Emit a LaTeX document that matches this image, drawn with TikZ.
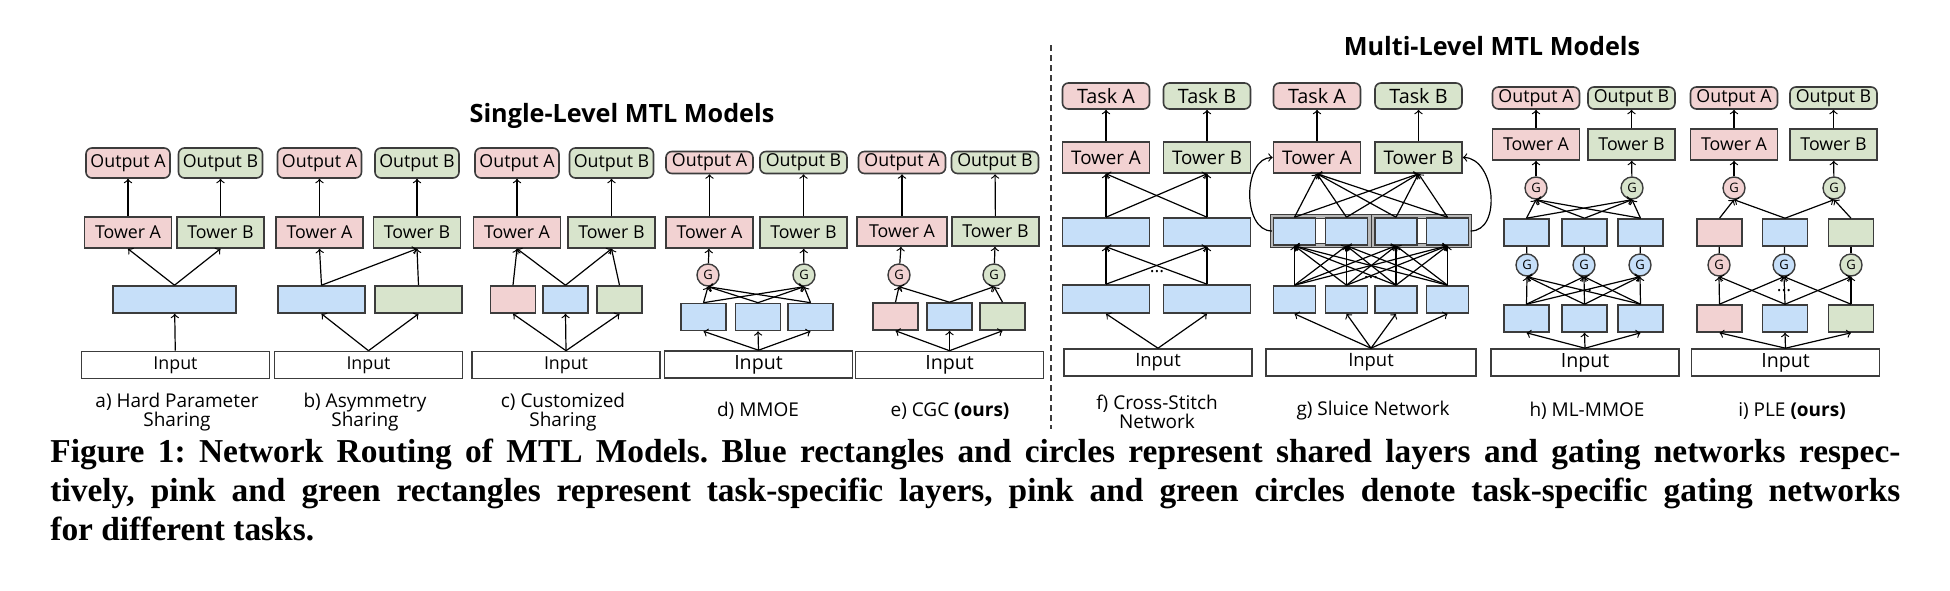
\documentclass[tikz,border=0pt]{standalone}
\usepackage{fontspec}
\setsansfont{Open Sans}
\newfontfamily\capfont{Liberation Serif}
\usetikzlibrary{positioning}
\definecolor{taskpink}{RGB}{242,210,210}
\definecolor{taskgreen}{RGB}{216,228,204}
\definecolor{sharedblue}{RGB}{198,223,249}
\definecolor{edgegray}{RGB}{60,60,60}
\definecolor{groupgray}{RGB}{185,185,185}

\begin{document}
\begin{tikzpicture}[x=0.5pt, y=-0.5pt,
    every node/.style={font=\sffamily\fontsize{8.9}{10}\selectfont},
    sz/.style 2 args={minimum width=#1*0.5pt, minimum height=#2*0.5pt},
    boxbase/.style={draw=edgegray, line width=0.8pt, inner sep=0pt},
    pinkfill/.style={fill=taskpink},
    greenfill/.style={fill=taskgreen},
    bluefill/.style={fill=sharedblue},
    tower/.style={boxbase, sz={87}{31}},
    outbig/.style={boxbase, rounded corners=3pt, sz={84}{30}},
    outsmall/.style={boxbase, rounded corners=3pt, sz={87}{22}},
    taskbox/.style={boxbase, rounded corners=3pt, sz={87}{26}},
    expert/.style={boxbase, sz={45}{27}},
    inbox/.style={boxbase, fill=white, sz={188}{27}},
    gate/.style={circle, draw=edgegray, line width=0.7pt, inner sep=0pt, minimum size=11pt, font=\sffamily\fontsize{6.5}{7}\selectfont},
    sluicegroup/.style={draw=edgegray, line width=0.55pt, double=groupgray, double distance=1.3pt, fill=white, sz={97}{29}},
    arr/.style={->, line width=0.6pt},
    plainlink/.style={line width=0.6pt},
    bigtext/.style={font=\sffamily\fontsize{9.8}{10}\selectfont},
    panellabel/.style={align=center, font=\sffamily\fontsize{9.5}{9.5}\selectfont},
    headline/.style={font=\sffamily\bfseries\fontsize{12.6}{13}\selectfont},
    ellip/.style={font=\sffamily\fontsize{9}{9}\selectfont, inner sep=0pt}
]
    \useasboundingbox (0,0) rectangle (1950,590);

    % === Titles and separator ===
    \node[headline] (slTitle) at (622,116) {Single-Level MTL Models};
    \node[headline] (mlTitle) at (1492,46) {Multi-Level MTL Models};
    \coordinate (sepTop) at (1051,45);
    \coordinate (sepBot) at (1051,429);
    \draw[edgegray, line width=0.6pt, dash pattern=on 3pt off 2pt] (sepTop) -- (sepBot);

    % === a) Hard Parameter Sharing ===
    \node[outbig, pinkfill] (aOutA) at (128,163) {Output A};
    \node[outbig, greenfill] (aOutB) at (220.5,163) {Output B};
    \node[tower, pinkfill] (aTowA) at (128,232.5) {Tower A};
    \node[tower, greenfill] (aTowB) at (220.5,232.5) {Tower B};
    \node[boxbase, bluefill, sz={123}{27}] (aShr) at (174.5,299.5) {};
    \node[inbox] (aIn) at (175.5,365) {Input};
    \node[panellabel] (aLab) at (177,412.5) {a) Hard Parameter\\Sharing};

    \draw[arr] (aIn) -- (aShr);
    \draw[arr] (aShr.north) -- (aTowA.south);
    \draw[arr] (aShr.north) -- (aTowB.south);
    \draw[arr] (aTowA) -- (aOutA);
    \draw[arr] (aTowB) -- (aOutB);

    % === b) Asymmetry Sharing ===
    \node[outbig, pinkfill] (bOutA) at (319.5,163) {Output A};
    \node[outbig, greenfill] (bOutB) at (417,163) {Output B};
    \node[tower, pinkfill] (bTowA) at (319.5,232.5) {Tower A};
    \node[tower, greenfill] (bTowB) at (417,232.5) {Tower B};
    \node[boxbase, bluefill, sz={87}{27}] (bShr) at (321.5,299.5) {};
    \node[boxbase, greenfill, sz={87}{27}] (bOwn) at (418.5,299.5) {};
    \node[inbox] (bIn) at (368.5,365) {Input};
    \node[panellabel] (bLab) at (365,412.5) {b) Asymmetry\\Sharing};

    \draw[arr] (bIn.north) -- (bShr.south);
    \draw[arr] (bIn.north) -- (bOwn.south);
    \draw[arr] (bShr.north) -- (bTowA.south);
    \draw[arr] (bShr.north) -- (bTowB.south);
    \draw[arr] (bOwn.north) -- (bTowB.south);
    \draw[arr] (bTowA) -- (bOutA);
    \draw[arr] (bTowB) -- (bOutB);

    % === c) Customized Sharing ===
    \node[outbig, pinkfill] (cOutA) at (517,163) {Output A};
    \node[outbig, greenfill] (cOutB) at (611.5,163) {Output B};
    \node[tower, pinkfill] (cTowA) at (517,232.5) {Tower A};
    \node[tower, greenfill] (cTowB) at (611.5,232.5) {Tower B};
    \node[expert, pinkfill] (cExA) at (513,299.5) {};
    \node[expert, bluefill] (cExS) at (565.5,299.5) {};
    \node[expert, greenfill] (cExB) at (619.5,299.5) {};
    \node[inbox] (cIn) at (566,365) {Input};
    \node[panellabel] (cLab) at (563,412.5) {c) Customized\\Sharing};

    \draw[arr] (cIn.north) -- (cExA.south);
    \draw[arr] (cIn.north) -- (cExS.south);
    \draw[arr] (cIn.north) -- (cExB.south);
    \draw[arr] (cExA.north) -- (cTowA.south);
    \draw[arr] (cExS.north) -- (cTowA.south);
    \draw[arr] (cExS.north) -- (cTowB.south);
    \draw[arr] (cExB.north) -- (cTowB.south);
    \draw[arr] (cTowA) -- (cOutA);
    \draw[arr] (cTowB) -- (cOutB);

    % === d) MMOE ===
    \node[outsmall, pinkfill] (dOutA) at (709.5,162.5) {Output A};
    \node[outsmall, greenfill] (dOutB) at (803.5,162.5) {Output B};
    \node[tower, pinkfill] (dTowA) at (709.5,232.5) {Tower A};
    \node[tower, greenfill] (dTowB) at (803.5,232.5) {Tower B};
    \node[gate, pinkfill] (dGA) at (708,275) {G};
    \node[gate, greenfill] (dGB) at (804,275) {G};
    \node[expert, bluefill] (dEx1) at (703.5,317) {};
    \node[expert, bluefill] (dEx2) at (758,317) {};
    \node[expert, bluefill] (dEx3) at (810.5,317) {};
    \node[inbox, bigtext] (dIn) at (758.5,364.5) {Input};
    \node[panellabel] (dLab) at (758,411) {d) MMOE};

    \draw[arr] (dIn.north) -- (dEx1.south);
    \draw[arr] (dIn.north) -- (dEx2.south);
    \draw[arr] (dIn.north) -- (dEx3.south);
    \foreach \i in {1,2,3} {
        \draw[arr] (dEx\i.north) -- (dGA.south);
        \draw[arr] (dEx\i.north) -- (dGB.south);
    }
    \draw[arr] (dGA) -- (dTowA);
    \draw[arr] (dGB) -- (dTowB);
    \draw[arr] (dTowA) -- (dOutA);
    \draw[arr] (dTowB) -- (dOutB);

    % === e) CGC ===
    \node[outsmall, pinkfill] (eOutA) at (902,162.5) {Output A};
    \node[outsmall, greenfill] (eOutB) at (995,162.5) {Output B};
    \node[tower, pinkfill, sz={90}{29}] (eTowA) at (902,231.5) {Tower A};
    \node[tower, greenfill, sz={87}{29}] (eTowB) at (995.5,231.5) {Tower B};
    \node[gate, pinkfill] (eGA) at (899,275) {G};
    \node[gate, greenfill] (eGB) at (994,275) {G};
    \node[expert, pinkfill] (eExA) at (895.5,316.5) {};
    \node[expert, bluefill] (eExS) at (949.5,316.5) {};
    \node[expert, greenfill] (eExB) at (1002.5,316.5) {};
    \node[inbox, bigtext] (eIn) at (949.5,365) {Input};
    \node[panellabel] (eLab) at (950,411) {e) CGC \textbf{(ours)}};

    \draw[arr] (eIn.north) -- (eExA.south);
    \draw[arr] (eIn.north) -- (eExS.south);
    \draw[arr] (eIn.north) -- (eExB.south);
    \draw[arr] (eExA.north) -- (eGA.south);
    \draw[arr] (eExS.north) -- (eGA.south);
    \draw[arr] (eExS.north) -- (eGB.south);
    \draw[arr] (eExB.north) -- (eGB.south);
    \draw[arr] (eGA) -- (eTowA);
    \draw[arr] (eGB) -- (eTowB);
    \draw[arr] (eTowA) -- (eOutA);
    \draw[arr] (eTowB) -- (eOutB);

    % === f) Cross-Stitch Network ===
    \node[taskbox, pinkfill, font=\sffamily\fontsize{9.9}{10}\selectfont] (fTaskA) at (1106,96) {Task A};
    \node[taskbox, greenfill, font=\sffamily\fontsize{9.9}{10}\selectfont] (fTaskB) at (1207,96) {Task B};
    \node[tower, pinkfill, font=\sffamily\fontsize{9.4}{10}\selectfont] (fTowA) at (1106,157.5) {Tower A};
    \node[tower, greenfill, font=\sffamily\fontsize{9.4}{10}\selectfont] (fTowB) at (1207,157.5) {Tower B};
    \node[boxbase, bluefill, sz={87}{28}] (fUp1) at (1106,232) {};
    \node[boxbase, bluefill, sz={87}{28}] (fUp2) at (1207,232) {};
    \node[boxbase, bluefill, sz={87}{28}] (fLo1) at (1106,299) {};
    \node[boxbase, bluefill, sz={87}{28}] (fLo2) at (1207,299) {};
    \node[ellip] (fDots) at (1157,272) {...};
    \node[inbox, font=\sffamily\fontsize{9.2}{10}\selectfont] (fIn) at (1158,362.5) {Input};
    \node[panellabel] (fLab) at (1157,411.5) {f) Cross-Stitch\\Network};

    \draw[arr] (fIn.north) -- (fLo1.south);
    \draw[arr] (fIn.north) -- (fLo2.south);
    \draw[arr] (fLo1.north) -- (fUp1.south);
    \draw[arr] (fLo1.north) -- (fUp2.south);
    \draw[arr] (fLo2.north) -- (fUp1.south);
    \draw[arr] (fLo2.north) -- (fUp2.south);
    \draw[arr] (fUp1.north) -- (fTowA.south);
    \draw[arr] (fUp1.north) -- (fTowB.south);
    \draw[arr] (fUp2.north) -- (fTowA.south);
    \draw[arr] (fUp2.north) -- (fTowB.south);
    \draw[arr] (fTowA) -- (fTaskA);
    \draw[arr] (fTowB) -- (fTaskB);

    % === g) Sluice Network ===
    \node[taskbox, pinkfill, font=\sffamily\fontsize{9.9}{10}\selectfont] (gTaskA) at (1317,96) {Task A};
    \node[taskbox, greenfill, font=\sffamily\fontsize{9.9}{10}\selectfont] (gTaskB) at (1418.5,96) {Task B};
    \node[tower, pinkfill, font=\sffamily\fontsize{9.4}{10}\selectfont] (gTowA) at (1317,157.5) {Tower A};
    \node[tower, greenfill, font=\sffamily\fontsize{9.4}{10}\selectfont] (gTowB) at (1418.5,157.5) {Tower B};
    \node[sluicegroup] (gGrp1) at (1321,231) {};
    \node[sluicegroup] (gGrp2) at (1421.5,231) {};
    \node[boxbase, bluefill, sz={42}{27}] (gUp1) at (1294.5,231.5) {};
    \node[boxbase, bluefill, sz={42}{27}] (gUp2) at (1346.5,231.5) {};
    \node[boxbase, bluefill, sz={42}{27}] (gUp3) at (1396,231.5) {};
    \node[boxbase, bluefill, sz={42}{27}] (gUp4) at (1447.5,231.5) {};
    \node[boxbase, bluefill, sz={42}{27}] (gLo1) at (1294.5,299.5) {};
    \node[boxbase, bluefill, sz={42}{27}] (gLo2) at (1346.5,299.5) {};
    \node[boxbase, bluefill, sz={42}{27}] (gLo3) at (1396,299.5) {};
    \node[boxbase, bluefill, sz={42}{27}] (gLo4) at (1447.5,299.5) {};
    \node[ellip] (gDots) at (1371,278) {...};
    \node[inbox, sz={210}{27}, font=\sffamily\fontsize{9.2}{10}\selectfont] (gIn) at (1371,362.5) {Input};
    \node[panellabel] (gLab) at (1373,411) {g) Sluice Network};

    \foreach \i in {1,...,4} {
        \draw[arr] (gIn.north) -- (gLo\i.south);
        \foreach \j in {1,...,4}
            \draw[arr] (gLo\i.north) -- (gUp\j.south);
        \draw[arr] (gUp\i.north) -- (gTowA.south);
        \draw[arr] (gUp\i.north) -- (gTowB.south);
    }
    \draw[arr] (gGrp1.west) .. controls +(-30,0) and +(-30,0) .. (gTowA.west);
    \draw[arr] (gGrp2.east) .. controls +(32,0) and +(32,0) .. (gTowB.east);
    \draw[arr] (gTowA) -- (gTaskA);
    \draw[arr] (gTowB) -- (gTaskB);

    % === h) ML-MMOE ===
    \node[outsmall, pinkfill] (hOutA) at (1536,98) {Output A};
    \node[outsmall, greenfill] (hOutB) at (1631.5,98) {Output B};
    \node[tower, pinkfill] (hTowA) at (1536,144.5) {Tower A};
    \node[tower, greenfill] (hTowB) at (1631.5,144.5) {Tower B};
    \node[gate, pinkfill] (hGA) at (1536,188) {G};
    \node[gate, greenfill] (hGB) at (1632,188) {G};
    \node[expert, bluefill] (hUp1) at (1526.5,232.5) {};
    \node[expert, bluefill] (hUp2) at (1584.5,232.5) {};
    \node[expert, bluefill] (hUp3) at (1640.5,232.5) {};
    \node[gate, bluefill] (hG1) at (1527,265) {G};
    \node[gate, bluefill] (hG2) at (1584,265) {G};
    \node[gate, bluefill] (hG3) at (1640,265) {G};
    \node[expert, bluefill] (hLo1) at (1526.5,318.5) {};
    \node[expert, bluefill] (hLo2) at (1584.5,318.5) {};
    \node[expert, bluefill] (hLo3) at (1640.5,318.5) {};
    \node[ellip] (hDots) at (1585,291) {...};
    \node[inbox, bigtext] (hIn) at (1585,362.5) {Input};
    \node[panellabel] (hLab) at (1587,411) {h) ML-MMOE};

    \foreach \i in {1,2,3} {
        \draw[arr] (hIn.north) -- (hLo\i.south);
        \foreach \j in {1,2,3}
            \draw[arr] (hLo\i.north) -- (hG\j.south);
        \draw[plainlink] (hG\i) -- (hUp\i);
        \draw[arr] (hUp\i.north) -- (hGA.south);
        \draw[arr] (hUp\i.north) -- (hGB.south);
    }
    \draw[arr] (hGA) -- (hTowA);
    \draw[arr] (hGB) -- (hTowB);
    \draw[arr] (hTowA) -- (hOutA);
    \draw[arr] (hTowB) -- (hOutB);

    % === i) PLE ===
    \node[outsmall, pinkfill] (iOutA) at (1734,98) {Output A};
    \node[outsmall, greenfill] (iOutB) at (1833.5,98) {Output B};
    \node[tower, pinkfill] (iTowA) at (1734,144.5) {Tower A};
    \node[tower, greenfill] (iTowB) at (1833.5,144.5) {Tower B};
    \node[gate, pinkfill] (iGA) at (1734,188) {G};
    \node[gate, greenfill] (iGB) at (1834,188) {G};
    \node[expert, pinkfill] (iUp1) at (1719.5,232.5) {};
    \node[expert, bluefill] (iUp2) at (1785,232.5) {};
    \node[expert, greenfill] (iUp3) at (1851,232.5) {};
    \node[gate, pinkfill] (iG1) at (1719,265) {G};
    \node[gate, bluefill] (iG2) at (1784,265) {G};
    \node[gate, greenfill] (iG3) at (1851,265) {G};
    \node[expert, pinkfill] (iLo1) at (1719.5,318.5) {};
    \node[expert, bluefill] (iLo2) at (1785,318.5) {};
    \node[expert, greenfill] (iLo3) at (1851,318.5) {};
    \node[ellip] (iDots) at (1784,291) {...};
    \node[inbox, bigtext] (iIn) at (1785.5,362.5) {Input};
    \node[panellabel] (iLab) at (1792,411) {i) PLE \textbf{(ours)}};

    \draw[arr] (iIn.north) -- (iLo1.south);
    \draw[arr] (iIn.north) -- (iLo2.south);
    \draw[arr] (iIn.north) -- (iLo3.south);
    \draw[arr] (iLo1.north) -- (iG1.south);
    \draw[arr] (iLo1.north) -- (iG2.south);
    \draw[arr] (iLo2.north) -- (iG1.south);
    \draw[arr] (iLo2.north) -- (iG2.south);
    \draw[arr] (iLo2.north) -- (iG3.south);
    \draw[arr] (iLo3.north) -- (iG2.south);
    \draw[arr] (iLo3.north) -- (iG3.south);
    \draw[plainlink] (iG1) -- (iUp1);
    \draw[plainlink] (iG2) -- (iUp2);
    \draw[plainlink] (iG3) -- (iUp3);
    \draw[arr] (iUp1.north) -- (iGA.south);
    \draw[arr] (iUp2.north) -- (iGA.south);
    \draw[arr] (iUp2.north) -- (iGB.south);
    \draw[arr] (iUp3.north) -- (iGB.south);
    \draw[arr] (iGA) -- (iTowA);
    \draw[arr] (iGB) -- (iTowB);
    \draw[arr] (iTowA) -- (iOutA);
    \draw[arr] (iTowB) -- (iOutB);

    % === Caption ===
    \node[anchor=north west, inner sep=0pt, align=left, font=\capfont\bfseries\fontsize{16.7}{19.3}\selectfont\frenchspacing] (figCap) at (50,439)
        {\makebox[925pt][s]{Figure 1: Network Routing of MTL Models. Blue rectangles and circles represent shared layers and gating networks respec-}\\
         \makebox[925pt][s]{tively, pink and green rectangles represent task-specific layers, pink and green circles denote task-specific gating networks}\\
         for different tasks.};
\end{tikzpicture}
\end{document}
